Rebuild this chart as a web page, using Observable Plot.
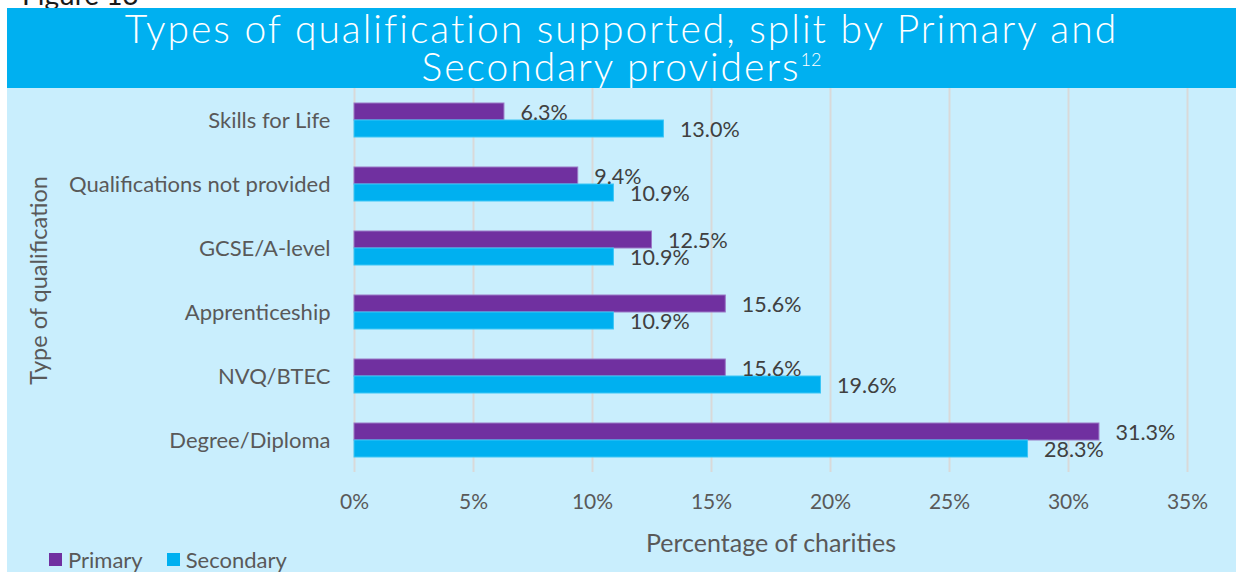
<!DOCTYPE html>
<html><head><meta charset="utf-8">
<script src="https://cdn.jsdelivr.net/npm/d3@7"></script>
<script src="https://cdn.jsdelivr.net/npm/@observablehq/plot@0.6"></script>
<style>
html,body{margin:0;padding:0;background:#fff;}
#wrap{position:relative;width:1236px;height:572px;overflow:hidden;font-family:Lato,"Open Sans",sans-serif;}
#fig{position:absolute;left:22px;top:-20px;font-size:28px;line-height:28px;color:#1a1a1a;white-space:nowrap;}
#banner{position:absolute;left:7px;top:8px;width:1229px;height:80px;background:#00B0F0;color:#fff;}
.tl{position:absolute;left:0;width:1229px;text-align:center;font-size:39px;line-height:37px;font-weight:300;white-space:nowrap;}
.tl sup{font-size:18px;vertical-align:15px;line-height:0;letter-spacing:0 !important;}
#panel{position:absolute;left:7px;top:88px;width:1229px;height:484px;background:#C9EEFD;}
#chart{position:absolute;left:0;top:88px;}
#legend{position:absolute;left:49px;top:546px;font-size:22px;color:#595959;white-space:nowrap;display:flex;align-items:center;}
#legend .sw{display:inline-block;width:13px;height:13px;margin-right:6px;}
#legend .it{display:flex;align-items:center;margin-right:24px;}
</style></head>
<body>
<div id="wrap">
  <div id="fig">Figure 13</div>
  <div id="banner">
    <div class="tl" id="t1" style="top:2px">Types of qualification supported, split by Primary and</div>
    <div class="tl" id="t2" style="top:40px">Secondary providers<sup>12</sup></div>
  </div>
  <div id="panel"></div>
  <div id="chart"></div>
  <div id="legend"></div>
</div>
<script>
const categories = ["Skills for Life","Qualifications not provided","GCSE/A-level","Apprenticeship","NVQ/BTEC","Degree/Diploma"];
const primary = [6.3, 9.4, 12.5, 15.6, 15.6, 31.3];
const secondary = [13.0, 10.9, 10.9, 10.9, 19.6, 28.3];
const xTicks = [0, 5, 10, 15, 20, 25, 30, 35];
const seriesNames = ["Primary", "Secondary"];
const seriesColors = ["#7030A0", "#00B0F0"];

const rows = categories.map((c, i) => ({category: c, primary: primary[i], secondary: secondary[i]}));

const chart = Plot.plot({
  width: 1236, height: 484,
  marginLeft: 354, marginRight: 49, marginTop: 0, marginBottom: 100,
  style: {background: "transparent", fontFamily: "Lato, 'Open Sans', sans-serif", color: "#595959", overflow: "visible"},
  x: {domain: [0, 35]},
  y: {domain: categories, paddingInner: 0.469, paddingOuter: 0.234},
  marks: [
    Plot.gridX(xTicks, {stroke: "#D9D9D9", strokeOpacity: 1, strokeWidth: 2}),
    Plot.barX(rows, {x: "primary", y: "category", fill: seriesColors[0], stroke: "#9a78c6", strokeWidth: 1, insetBottom: 17}),
    Plot.barX(rows, {x: "secondary", y: "category", fill: seriesColors[1], stroke: "#3cc6f6", strokeWidth: 1, insetTop: 17}),
    Plot.text(rows, {x: "primary", y: "category", dy: -7, dx: 16, text: d => d.primary.toFixed(1) + "%", textAnchor: "start", fontSize: 21.5, fill: "#404040"}),
    Plot.text(rows, {x: "secondary", y: "category", dy: 10, dx: 16, text: d => d.secondary.toFixed(1) + "%", textAnchor: "start", fontSize: 21.5, fill: "#404040"}),
    Plot.axisX({ticks: xTicks, tickFormat: d => d + "%", tickSize: 0, tickPadding: 22, fontSize: 21, label: null, fill: "#595959"}),
    Plot.axisX({ticks: [], tickSize: 0, label: "Percentage of charities", labelAnchor: "center", labelOffset: 79, labelArrow: "none", fontSize: 25, fill: "#595959"}),
    Plot.axisY({tickSize: 0, tickPadding: 24, fontSize: 22, label: null, fill: "#595959"}),
    Plot.axisY({ticks: [], tickSize: 0, label: "Type of qualification", labelAnchor: "center", labelOffset: 324, labelArrow: "none", fontSize: 23.5, fill: "#595959"})
  ]
});
document.getElementById("chart").appendChild(chart);

const legend = document.getElementById("legend");
seriesNames.forEach((n, i) => {
  const it = document.createElement("span"); it.className = "it";
  const sw = document.createElement("span"); sw.className = "sw"; sw.style.background = seriesColors[i];
  it.appendChild(sw); it.appendChild(document.createTextNode(n));
  legend.appendChild(it);
});

// fit title width to reference (line 1 ~993px)
const t1 = document.getElementById("t1");
const r = document.createRange(); r.selectNodeContents(t1);
const w = r.getBoundingClientRect().width;
const n = t1.textContent.length;
const ls = (993 - w) / n;
document.querySelectorAll(".tl").forEach(e => e.style.letterSpacing = ls + "px");
</script>
</body></html>
